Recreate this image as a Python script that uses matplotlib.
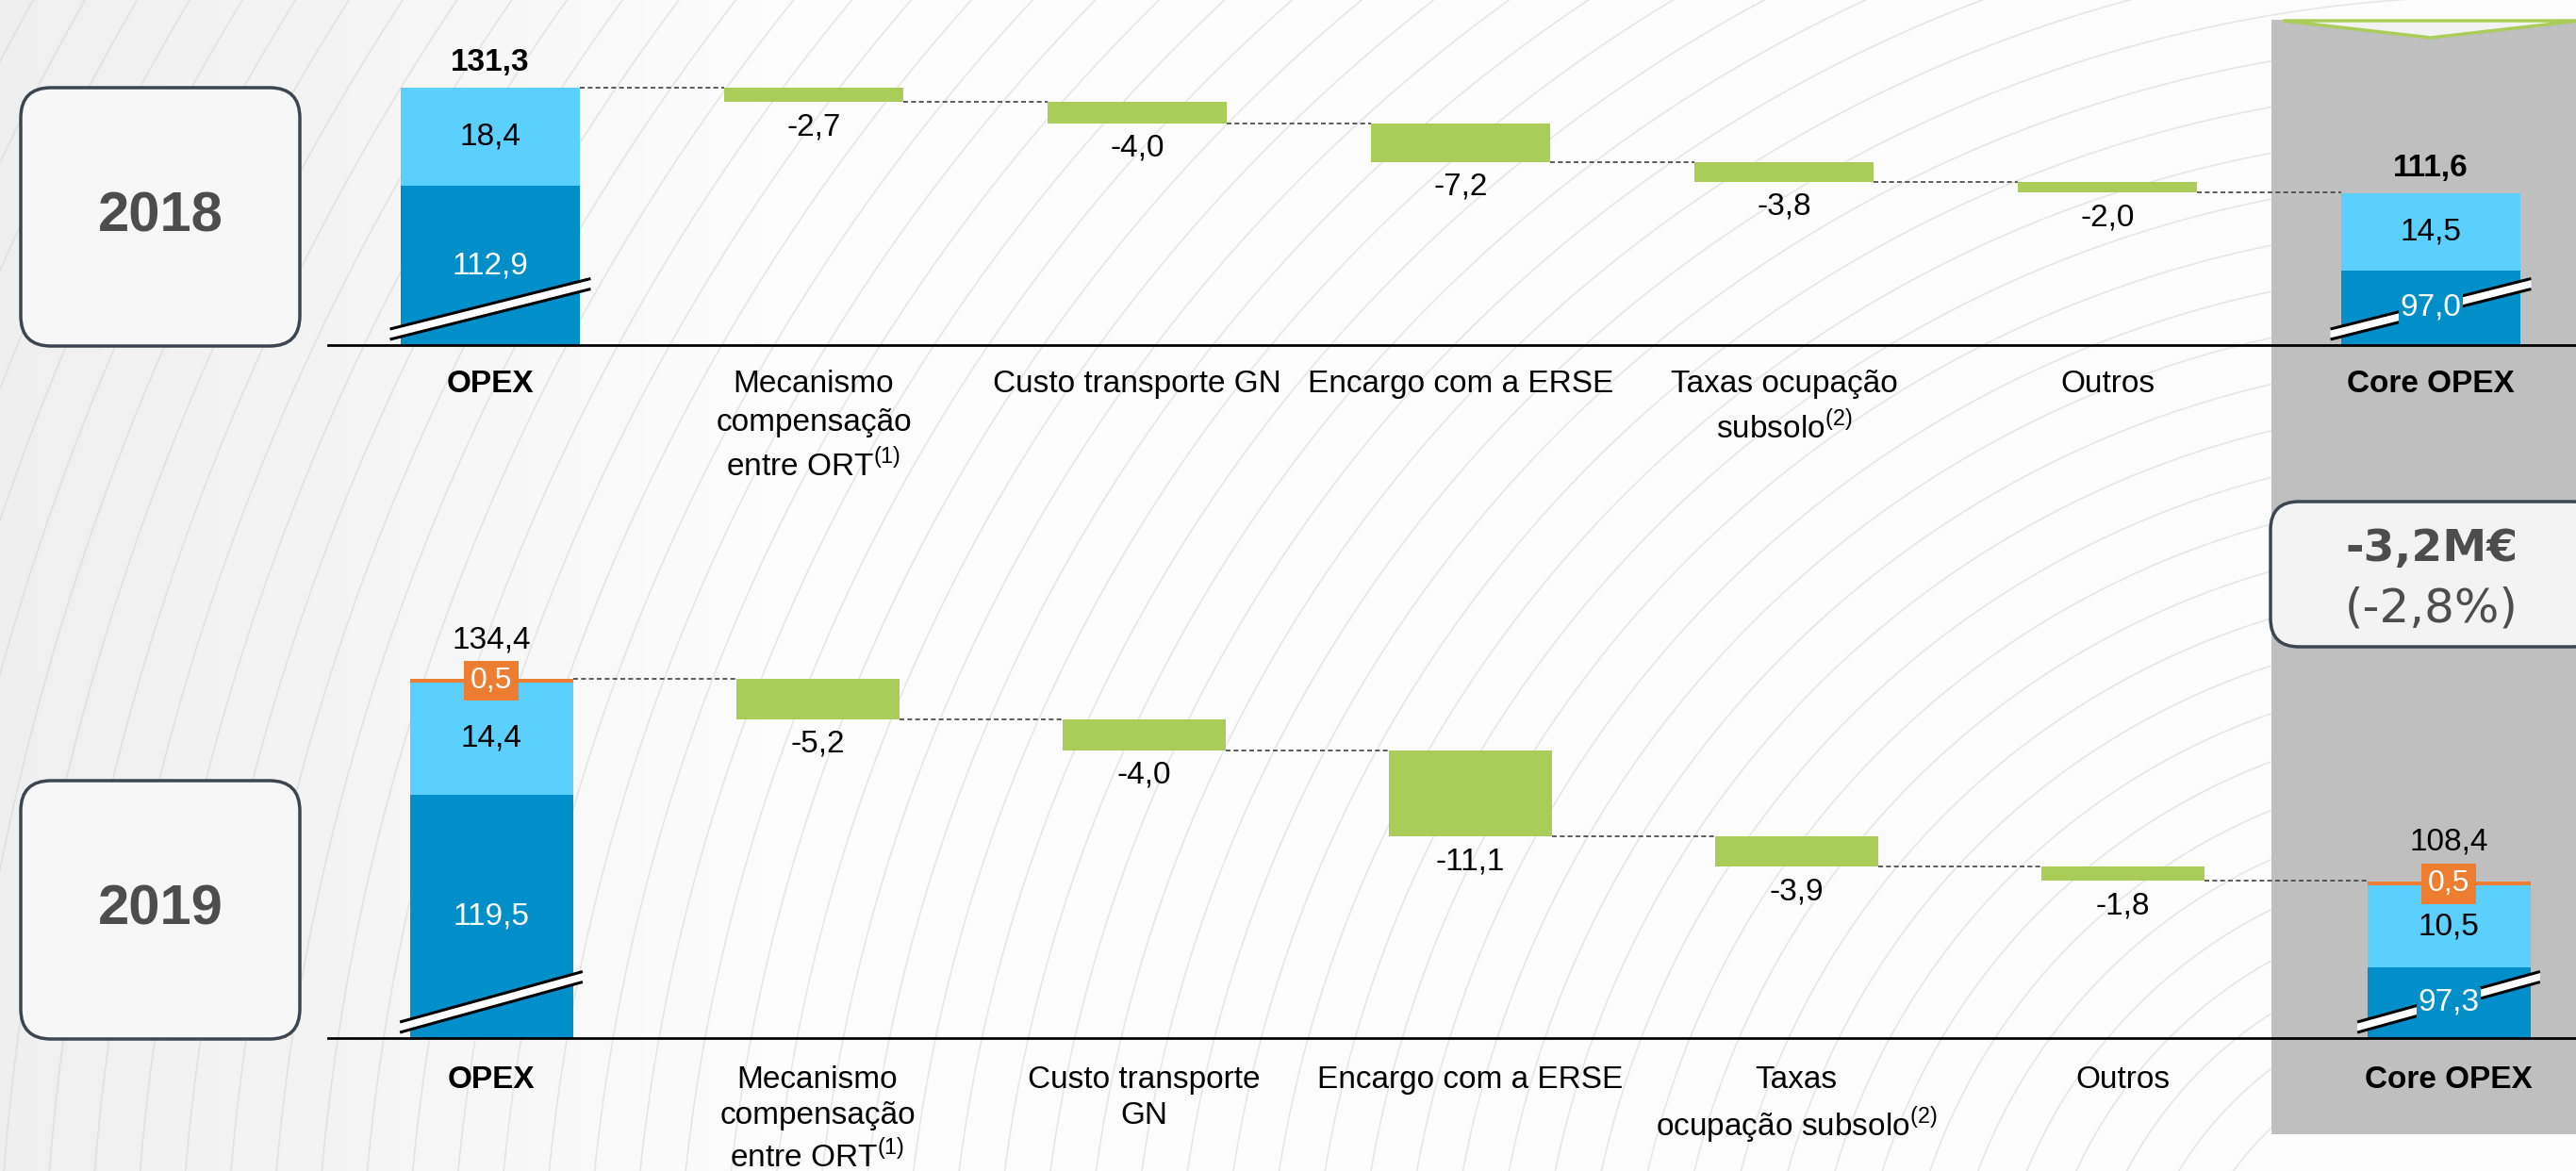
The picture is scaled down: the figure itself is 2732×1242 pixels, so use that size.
import matplotlib
matplotlib.use("Agg")
import matplotlib.pyplot as plt
import numpy as np
from matplotlib.patches import FancyBboxPatch, Rectangle, Polygon

plt.rcParams["font.family"] = ["Liberation Sans", "DejaVu Sans"]
plt.rcParams["mathtext.fontset"] = "custom"
plt.rcParams["mathtext.rm"] = "Liberation Sans"

W, H = 2732, 1242

# ---- data ----
labels_2018 = ["OPEX", "Mecanismo\ncompensação\nentre ORT$^{\\mathregular{(1)}}$",
               "Custo transporte GN", "Encargo com a ERSE",
               "Taxas ocupação\nsubsolo$^{\\mathregular{(2)}}$", "Outros", "Core OPEX"]
labels_2019 = ["OPEX", "Mecanismo\ncompensação\nentre ORT$^{\\mathregular{(1)}}$",
               "Custo transporte\nGN", "Encargo com a ERSE",
               "Taxas\nocupação subsolo$^{\\mathregular{(2)}}$", "Outros", "Core OPEX"]

# stacked parts: [base, other, one-off]
opex_2018 = [112.9, 18.4]
core_2018 = [97.0, 14.5]
steps_2018 = [-2.7, -4.0, -7.2, -3.8, -2.0]
totals_2018 = [131.3, 111.6]

opex_2019 = [119.5, 14.4, 0.5]
core_2019 = [97.3, 10.5, 0.5]
steps_2019 = [-5.2, -4.0, -11.1, -3.9, -1.8]
totals_2019 = [134.4, 108.4]

years = ["2018", "2019"]
delta_abs = "-3,2M€"
delta_pct = "(-2,8%)"

seg_colors = ["#008FC8", "#5BCFFE", "#ED7D31"]
seg_text = ["white", "black", "white"]
green = "#AACD5A"


def fmt(v):
    return f"{v:.1f}".replace(".", ",")


fig = plt.figure(figsize=(W / 100, H / 100), dpi=100)

# background / decoration layer in pixel coordinates
bg = fig.add_axes([0, 0, 1, 1], zorder=0)
bg.set_xlim(0, W)
bg.set_ylim(H, 0)
bg.axis("off")
grad = np.clip(0.935 + 0.05 * np.linspace(0, 1, 200) / 0.3, 0, 0.985)
bg.imshow(np.tile(grad, (20, 1)), cmap="gray", vmin=0, vmax=1, extent=[0, W, H, 0],
          aspect="auto", zorder=0)
t = np.linspace(0, 2 * np.pi, 600)
for r in np.arange(350, 3000, 48):
    bg.plot(2650 + r * np.cos(t), 1450 + r * np.sin(t), color="#D6D6D6", lw=1.1,
            alpha=0.6, zorder=1)

bg.add_patch(Rectangle((2409, 21), 330, 1182, fc="#BFBFBF", ec="none", zorder=2))
bg.add_patch(Polygon([(2421, 22), (2736, 22), (2578, 40)], closed=True, fc="#F2F2F2",
                     ec=green, lw=2.5, zorder=3))
for yr, (y0, y1) in zip(years, [(93, 367), (828, 1102)]):
    bg.add_patch(FancyBboxPatch((22, y0), 296, y1 - y0,
                                boxstyle="round,pad=0,rounding_size=32",
                                fc="#F7F7F7", ec="#3C4650", lw=2.5, zorder=3))
    bg.text(170, (y0 + y1) / 2, yr, ha="center", va="center", fontsize=43,
            fontweight="bold", color="#4D4D4D", zorder=4)
bg.add_patch(FancyBboxPatch((2408, 532), 350, 154, boxstyle="round,pad=0,rounding_size=30",
                            fc="#F3F3F3", ec="#3C4650", lw=2.5, zorder=3))
bg.text(2579, 582, delta_abs, ha="center", va="center", fontsize=34, fontweight="bold",
        color="#4D4D4D", family="DejaVu Sans", zorder=4)
bg.text(2579, 645, delta_pct, ha="center", va="center", fontsize=36,
        color="#4D4D4D", family="DejaVu Sans", zorder=4)


def break_mark(ax, xc, w, base, ppu, yl_px, yr_px, t_px):
    xl, xr = xc - 0.56 * w, xc + 0.56 * w
    yl, yr = base + yl_px / ppu, base + yr_px / ppu
    h = t_px / ppu / 2
    ax.add_patch(Polygon([(xl, yl - h), (xr, yr - h), (xr, yr + h), (xl, yl + h)],
                         closed=True, fc="white", ec="none", zorder=5))
    for d in (-h, h):
        ax.plot([xl, xr], [yl + d, yr + d], color="black", lw=2.2, zorder=5,
                solid_capstyle="butt")


def panel(top_px, bot_px, base, ppu, x0, step, width, labels, start, end, steps,
          totals, bold_total, total_off, pad, lsp):
    ax = fig.add_axes([0, 1 - bot_px / H, 1, (bot_px - top_px) / H], zorder=2)
    ax.patch.set_alpha(0)
    ax.set_xlim(-x0 / step, (W - x0) / step)
    ax.set_ylim(base, base + (bot_px - top_px) / ppu)
    for s in ax.spines.values():
        s.set_visible(False)
    ax.set_yticks([])
    x = np.arange(len(labels))

    # stacked start / end bars
    for xi, parts in ((x[0], start), (x[-1], end)):
        bottom = 0
        for k, v in enumerate(parts):
            ax.bar(xi, v, width, bottom=bottom, color=seg_colors[k], zorder=3)
            lo, hi = max(bottom, base), bottom + v
            if k < 2:
                ax.text(xi, (lo + hi) / 2, fmt(v), ha="center", va="center", fontsize=24,
                        color=seg_text[k], zorder=6,
                        bbox=dict(fc=seg_colors[k], ec="none", pad=1) if k == 0 else None)
            else:
                ax.text(xi, (lo + hi) / 2, fmt(v), ha="center", va="center", fontsize=23,
                        color="white", zorder=6,
                        bbox=dict(boxstyle="square,pad=0.2", fc=seg_colors[2], ec="none"))
            bottom += v
        break_mark(ax, xi, width, base, ppu, 11.5, 65, 11)

    # waterfall steps
    level = totals[0]
    levels = [level]
    for xi, s in zip(x[1:-1], steps):
        ax.bar(xi, s, width, bottom=level, color=green, zorder=3)
        level += s
        levels.append(level)
        ax.annotate(fmt(s), (xi, level), xytext=(0, -19), textcoords="offset points",
                    ha="center", va="center", fontsize=24, zorder=6)

    # connectors
    for i, lv in enumerate(levels):
        ax.plot([x[i] + width / 2, x[i + 1] - width / 2], [lv, lv], color="#404040",
                lw=1.2, ls=(0, (3, 2)), zorder=2)

    for xi, tv in zip((x[0], x[-1]), totals):
        ax.annotate(fmt(tv), (xi, tv), xytext=(0, total_off), textcoords="offset points",
                    ha="center", va="center", fontsize=24,
                    fontweight="bold" if bold_total else "normal", zorder=6)

    ax.axhline(base, xmin=348 / W, xmax=1, color="black", lw=2, clip_on=False, zorder=4)

    ax.set_xticks(x, labels)
    ax.tick_params(axis="x", length=0, pad=pad, labelsize=24)
    tl = ax.get_xticklabels()
    for lab in tl:
        lab.set_linespacing(lsp)
    tl[0].set_fontweight("bold")
    tl[-1].set_fontweight("bold")
    return ax


panel(0, 366, 83.0, 5.65, 520, 343, 0.554, labels_2018, opex_2018, core_2018,
      steps_2018, totals_2018, True, 19, 19, 1.4)
panel(560, 1101, 88.2, 8.25, 521, 346, 0.5, labels_2019, opex_2019, core_2019,
      steps_2019, totals_2019, False, 29.5, 21, 1.3)

fig.savefig("out.png", dpi=100)
